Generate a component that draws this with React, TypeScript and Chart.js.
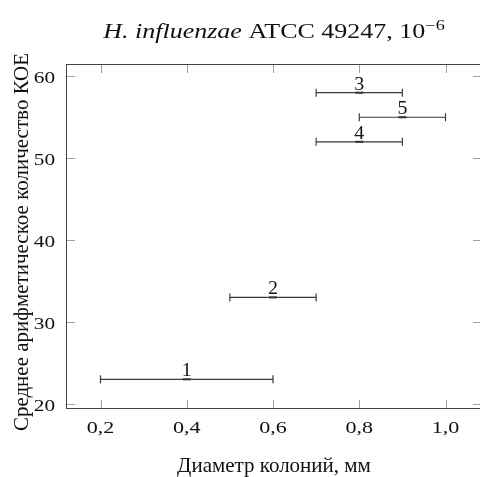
import React, { useEffect, useRef } from 'react';
import { Chart, registerables } from 'chart.js';

Chart.register(...registerables);

// ---- data ----
const categories = ['1', '2', '3', '4', '5'];
const meanCfu = [23, 33, 58, 52, 55];
const diameterLow = [0.2, 0.5, 0.7, 0.7, 0.8];
const diameterHigh = [0.6, 0.7, 0.9, 0.9, 1.0];
const diameterMid = [0.4, 0.6, 0.8, 0.8, 0.9];
const xTickValues = [0.2, 0.4, 0.6, 0.8, 1.0];
const yTickValues = [20, 30, 40, 50, 60];
const xAxisLimits = [0.12, 1.08];
const yAxisLimits = [19.5, 61.5];

const titleItalic = 'H. influenzae';
const titleRegular = ' ATCC 49247, 10';
const titleSup = '\u22126';
const xAxisTitle = 'Диаметр колоний, мм';
const yAxisTitle = 'Среднее арифметическое количество КОЕ';

const SERIF = '"Liberation Serif", "Times New Roman", serif';
const W = 480;
const H = 477;

const fmtX = (v: number) => v.toFixed(1).replace('.', ',');

function drawText(
  ctx: CanvasRenderingContext2D,
  text: string,
  x: number,
  y: number,
  font: string,
  sx: number,
  align: 'left' | 'center' | 'right'
) {
  ctx.save();
  ctx.font = font;
  const w = ctx.measureText(text).width * sx;
  const left = align === 'left' ? x : align === 'center' ? x - w / 2 : x - w;
  ctx.translate(left, y);
  ctx.scale(sx, 1);
  ctx.textAlign = 'left';
  ctx.textBaseline = 'alphabetic';
  ctx.fillText(text, 0, 0);
  ctx.restore();
  return w;
}

const decorPlugin = {
  id: 'decor',
  afterDraw(chart: any) {
    const { ctx, chartArea: a, scales } = chart;
    const xs = scales.x;
    const ys = scales.y;
    const line = (x1: number, y1: number, x2: number, y2: number) => {
      ctx.beginPath();
      ctx.moveTo(x1, y1);
      ctx.lineTo(x2, y2);
      ctx.stroke();
    };
    ctx.save();
    // top frame
    ctx.strokeStyle = '#444';
    ctx.lineWidth = 1;
    line(a.left, a.top + 0.5, a.right, a.top + 0.5);
    // inward ticks
    ctx.strokeStyle = '#a0a0a0';
    const TL = 8;
    xTickValues.forEach((v) => {
      const px = Math.round(xs.getPixelForValue(v)) + 0.5;
      line(px, a.bottom, px, a.bottom - TL);
      line(px, a.top + 1, px, a.top + 1 + TL);
    });
    yTickValues.forEach((v) => {
      const py = Math.round(ys.getPixelForValue(v)) + 0.5;
      line(a.left + 1, py, a.left + 1 + TL, py);
      line(a.right + 1, py, a.right + 1 - TL, py);
    });
    ctx.fillStyle = '#111';
    // tick labels
    const tickFont = `17px ${SERIF}`;
    xTickValues.forEach((v) => {
      drawText(ctx, fmtX(v), xs.getPixelForValue(v), a.bottom + 25, tickFont, 1.3, 'center');
    });
    yTickValues.forEach((v) => {
      drawText(ctx, String(v), a.left - 11, ys.getPixelForValue(v) + 7, tickFont, 1.25, 'right');
    });
    // point labels
    categories.forEach((c, i) => {
      drawText(ctx, c, xs.getPixelForValue(diameterMid[i]), ys.getPixelForValue(meanCfu[i]) - 3, `19px ${SERIF}`, 1.05, 'center');
    });
    // title
    const cx = (a.left + a.right + 2) / 2;
    const sx = 1.3;
    const parts = [
      { t: titleItalic, f: `italic 20px ${SERIF}`, dy: 0 },
      { t: titleRegular, f: `20px ${SERIF}`, dy: 0 },
      { t: titleSup, f: `14px ${SERIF}`, dy: -8 },
    ];
    let total = 0;
    parts.forEach((p) => {
      ctx.font = p.f;
      total += ctx.measureText(p.t).width * sx;
    });
    let x = cx - total / 2;
    parts.forEach((p) => {
      x += drawText(ctx, p.t, x, 38 + p.dy, p.f, sx, 'left');
    });
    // x axis title
    drawText(ctx, xAxisTitle, cx, 472, `21px ${SERIF}`, 1.0, 'center');
    // y axis title
    ctx.save();
    ctx.translate(28, (a.top + a.bottom) / 2 + 6);
    ctx.rotate(-Math.PI / 2);
    drawText(ctx, yAxisTitle, 0, 0, `21px ${SERIF}`, 1.0, 'center');
    ctx.restore();
    ctx.restore();
  },
};

export default function App() {
  const ref = useRef<HTMLCanvasElement | null>(null);

  useEffect(() => {
    if (!ref.current) return;
    const barColor = '#3a3a3a';
    const errorSets = categories.map((c, i) => ({
      label: `bar ${c}`,
      data: [
        { x: diameterLow[i], y: meanCfu[i] },
        { x: diameterHigh[i], y: meanCfu[i] },
      ],
      showLine: true,
      borderColor: barColor,
      borderWidth: 1.2,
      pointStyle: 'line',
      pointRotation: 90,
      pointRadius: 4,
      pointHoverRadius: 4,
      pointBorderColor: barColor,
      pointBorderWidth: 1.2,
    }));
    const centerSet = {
      label: 'center',
      data: categories.map((_, i) => ({ x: diameterMid[i], y: meanCfu[i] })),
      showLine: false,
      pointStyle: 'line',
      pointRadius: 4,
      pointHoverRadius: 4,
      pointBorderColor: '#222',
      pointBorderWidth: 2,
    };
    const chart = new Chart(ref.current, {
      type: 'scatter',
      data: { datasets: [...errorSets, centerSet] as any },
      plugins: [decorPlugin],
      options: {
        responsive: false,
        animation: false,
        layout: { autoPadding: false, padding: { top: 64, left: 0, right: 0, bottom: 0 } },
        plugins: { legend: { display: false }, tooltip: { enabled: false }, title: { display: false } },
        scales: {
          x: {
            type: 'linear',
            min: xAxisLimits[0],
            max: xAxisLimits[1],
            grid: { display: false, drawTicks: false },
            border: { display: true, color: '#444', width: 1 },
            afterBuildTicks: (s: any) => {
              s.ticks = xTickValues.map((v) => ({ value: v }));
            },
            afterFit: (s: any) => {
              s.height = 69;
              s.paddingLeft = 0;
              s.paddingRight = 0;
            },
            ticks: { display: false },
          },
          y: {
            type: 'linear',
            min: yAxisLimits[0],
            max: yAxisLimits[1],
            grid: { display: false, drawTicks: false },
            border: { display: true, color: '#444', width: 1 },
            afterBuildTicks: (s: any) => {
              s.ticks = yTickValues.map((v) => ({ value: v }));
            },
            afterFit: (s: any) => {
              s.width = 66;
              s.paddingTop = 0;
              s.paddingBottom = 0;
            },
            ticks: { display: false },
          },
        },
      },
    } as any);
    return () => chart.destroy();
  }, []);

  return (
    <div style={{ position: 'fixed', left: 0, top: 0, width: W, height: H, background: '#fff' }}>
      <canvas ref={ref} width={W} height={H} style={{ display: 'block' }} />
    </div>
  );
}
